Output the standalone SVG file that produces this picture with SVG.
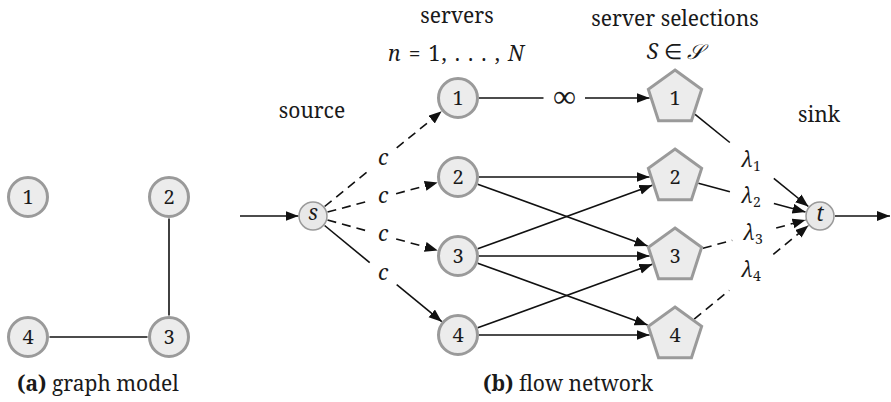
<svg xmlns="http://www.w3.org/2000/svg" xmlns:xlink="http://www.w3.org/1999/xlink" width="891" height="402" viewBox="0 0 891 402">
<defs>
<style>
.nd{fill:#ececec;stroke:#9a9a9a;stroke-width:3}
.sm{fill:#e8e8e8;stroke:#9a9a9a;stroke-width:1.5}
.tx{font-family:'Noto Serif','Liberation Serif',serif;font-size:21px;fill:#1a1a1a}
.num{font-size:20px;text-anchor:middle}
.mid{text-anchor:middle}
.it{font-style:italic}
.sub{font-size:14px;font-style:normal}
.e{stroke:#111;stroke-width:1.6;fill:none}
.d{stroke-dasharray:9 6}
.a{marker-end:url(#ah)}
</style>
<marker id="ah" markerUnits="userSpaceOnUse" markerWidth="14" markerHeight="11" refX="13" refY="5" orient="auto">
<path d="M0,0 L13,5 L0,10 z" fill="#111"/>
</marker>
<polygon id="pent" class="nd" points="0,-28 26.63,-8.65 16.46,22.65 -16.46,22.65 -26.63,-8.65"/>
</defs>
<rect width="891" height="402" fill="#fff"/>

<!-- (a) graph model -->
<g id="connectors-a">
<line class="e" x1="169" y1="218.5" x2="169" y2="315.5"/>
<line class="e" x1="49.5" y1="337" x2="147.5" y2="337"/>
</g>
<g id="a1"><circle class="nd" cx="28" cy="197" r="19.5"/><text class="tx num" x="28" y="204">1</text></g>
<g id="a2"><circle class="nd" cx="169" cy="197" r="19.5"/><text class="tx num" x="169" y="204">2</text></g>
<g id="a3"><circle class="nd" cx="169" cy="337" r="19.5"/><text class="tx num" x="169" y="344">3</text></g>
<g id="a4"><circle class="nd" cx="28" cy="337" r="19.5"/><text class="tx num" x="28" y="344">4</text></g>
<text class="tx" x="17" y="391"><tspan font-weight="bold">(a)</tspan> graph model</text>

<!-- (b) flow network -->
<g id="connectors">
<line class="e a" x1="240" y1="216" x2="298.5" y2="216"/>
<line class="e d" x1="324.6" y1="206.5" x2="369.7" y2="169.9"/>
<line class="e d a" x1="396.7" y1="147.9" x2="441.7" y2="111.3"/>
<line class="e d" x1="327.5" y1="212.1" x2="369.1" y2="200.9"/>
<line class="e d a" x1="396.1" y1="193.7" x2="437.7" y2="182.5"/>
<line class="e d" x1="327.5" y1="220" x2="369.2" y2="231.5"/>
<line class="e d a" x1="396.2" y1="238.9" x2="437.8" y2="250.4"/>
<line class="e" x1="324.6" y1="225.5" x2="369.7" y2="262.6"/>
<line class="e a" x1="396.7" y1="284.6" x2="441.8" y2="321.7"/>
<line class="e" x1="479" y1="98" x2="543.5" y2="98"/>
<line class="e a" x1="585" y1="98" x2="649.6" y2="98"/>
<line class="e a" x1="479" y1="177" x2="649.6" y2="177"/>
<line class="e a" x1="477.7" y1="184.2" x2="647.6" y2="246"/>
<line class="e a" x1="477.7" y1="248.8" x2="652.3" y2="185.3"/>
<line class="e a" x1="479" y1="256" x2="649.6" y2="256"/>
<line class="e a" x1="477.7" y1="263.2" x2="647.6" y2="325"/>
<line class="e a" x1="477.7" y1="327.8" x2="652.3" y2="264.3"/>
<line class="e a" x1="479" y1="335" x2="649.6" y2="335"/>
<line class="e" x1="695.1" y1="114.3" x2="729.8" y2="142.5"/>
<line class="e a" x1="773.8" y1="178.3" x2="808.4" y2="206.5"/>
<line class="e" x1="698.4" y1="183.3" x2="729.9" y2="191.8"/>
<line class="e a" x1="773.9" y1="203.6" x2="805.5" y2="212.1"/>
<line class="e d" x1="702.9" y1="248.3" x2="732.2" y2="240.3"/>
<line class="e d a" x1="776.2" y1="228.1" x2="805.5" y2="220"/>
<line class="e d" x1="694.2" y1="319.2" x2="729.3" y2="290.4"/>
<line class="e d a" x1="773.3" y1="254.4" x2="808.4" y2="225.5"/>
<line class="e a" x1="835" y1="216" x2="890" y2="216"/>
</g>

<g id="edge-labels" class="tx it mid">
<text x="383" y="165">c</text>
<text x="383" y="203">c</text>
<text x="383" y="241">c</text>
<text x="383" y="280">c</text>
<text x="564.5" y="107" font-style="normal" font-size="32">∞</text>
<text x="751" y="167">λ<tspan class="sub" dy="4">1</tspan></text>
<text x="751" y="203">λ<tspan class="sub" dy="4">2</tspan></text>
<text x="753" y="240">λ<tspan class="sub" dy="4">3</tspan></text>
<text x="751" y="277">λ<tspan class="sub" dy="4">4</tspan></text>
</g>

<g id="source"><circle class="sm" cx="313" cy="216" r="14"/><text class="tx it mid" font-size="15" x="313" y="220">s</text></g>
<g id="sink"><circle class="sm" cx="820" cy="216" r="14"/><text class="tx it mid" font-size="15" x="820" y="221">t</text></g>

<g id="n1"><circle class="nd" cx="458" cy="98" r="19.5"/><text class="tx num" x="458" y="105">1</text></g>
<g id="n2"><circle class="nd" cx="458" cy="177" r="19.5"/><text class="tx num" x="458" y="184">2</text></g>
<g id="n3"><circle class="nd" cx="458" cy="256" r="19.5"/><text class="tx num" x="458" y="263">3</text></g>
<g id="n4"><circle class="nd" cx="458" cy="335" r="19.5"/><text class="tx num" x="458" y="342">4</text></g>

<g id="p1"><use xlink:href="#pent" transform="translate(675,98)"/><text class="tx num" x="675" y="105">1</text></g>
<g id="p2"><use xlink:href="#pent" transform="translate(675,177)"/><text class="tx num" x="675" y="184">2</text></g>
<g id="p3"><use xlink:href="#pent" transform="translate(675,256)"/><text class="tx num" x="675" y="263">3</text></g>
<g id="p4"><use xlink:href="#pent" transform="translate(675,335)"/><text class="tx num" x="675" y="342">4</text></g>

<g id="headings" class="tx mid">
<text x="457" y="23">servers</text>
<text x="456" y="61" xml:space="preserve" textLength="136" lengthAdjust="spacing"><tspan class="it">n</tspan> = 1, . . . , <tspan class="it">N</tspan></text>
<text x="675" y="26">server selections</text>
<text x="675" y="59"><tspan class="it">S</tspan> ∈ <tspan class="it">𝒮</tspan></text>
<text x="312" y="118">source</text>
<text x="819" y="122">sink</text>
</g>
<text class="tx" x="483" y="391"><tspan font-weight="bold">(b)</tspan> flow network</text>
</svg>
